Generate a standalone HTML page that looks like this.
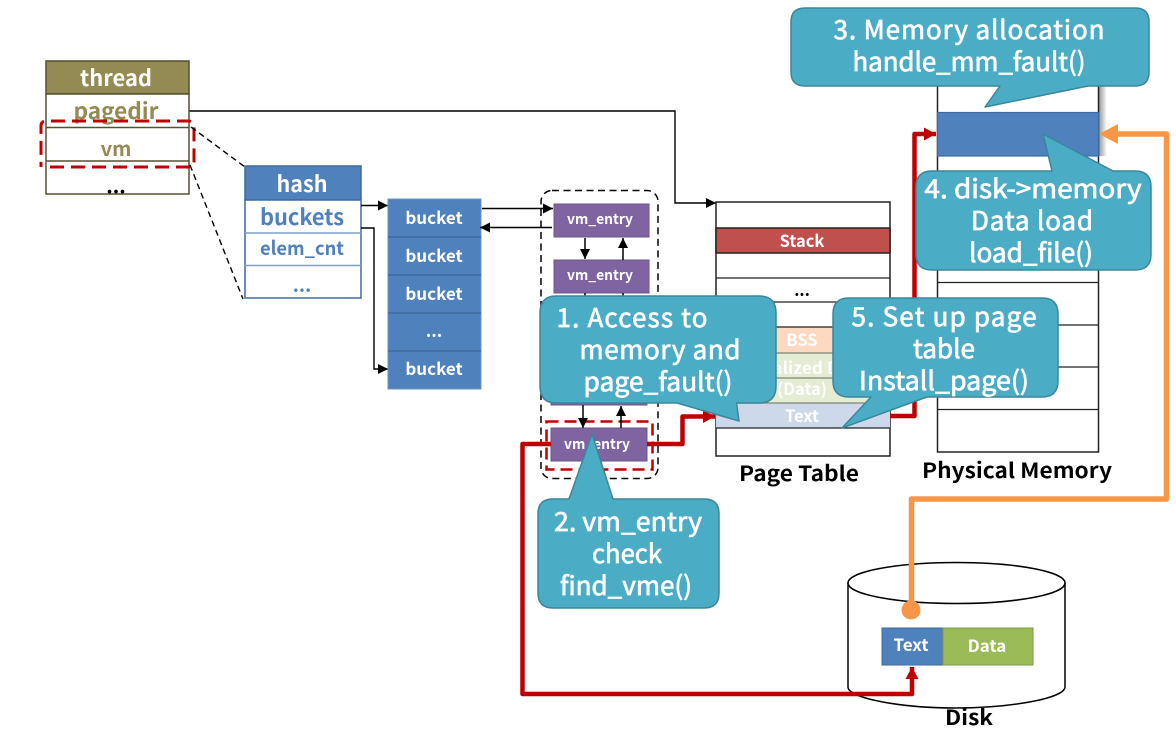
<!DOCTYPE html>
<html><head><meta charset="utf-8">
<style>
html,body{margin:0;padding:0;background:#fff;width:1176px;height:731px;overflow:hidden}
svg{display:block}
text{font-family:"Noto Sans CJK KR","Liberation Sans",sans-serif;font-weight:700;text-anchor:middle}
.w{fill:#fff}
.c{fill:#fff;font-size:26px;font-weight:400;stroke:#fff;stroke-width:.7px}
.k{fill:#000}
</style></head><body>
<svg width="1176" height="731" viewBox="0 0 1176 731" xmlns="http://www.w3.org/2000/svg">
<defs>
<linearGradient id="sh" x1="0" x2="1" y1="0" y2="0"><stop offset="0" stop-color="#999"/><stop offset="1" stop-color="#fff"/></linearGradient>
<marker id="ab" markerWidth="12" markerHeight="12" refX="10" refY="5" orient="auto" markerUnits="userSpaceOnUse"><path d="M0 0L10 5L0 10z" fill="#000"/></marker>
<marker id="ar" markerWidth="16" markerHeight="16" refX="12" refY="6.5" orient="auto" markerUnits="userSpaceOnUse"><path d="M0 0L12 6.5L0 13z" fill="#c00000"/></marker>
</defs>

<!-- pagedir connector -->
<path d="M189 111H675V203H716" fill="none" stroke="#000" stroke-width="1.4" marker-end="url(#ab)"/>

<!-- thread -->
<rect x="46" y="61" width="143" height="33" fill="#948a54" stroke="#575030" stroke-width="1.5"/>
<rect x="46" y="94" width="143" height="100" fill="#fff" stroke="#575030" stroke-width="1.5"/>
<path d="M46 127.500H189M46 161H189" stroke="#575030" stroke-width="1.500"/>
<text x="116" y="86" class="w" font-size="22" textLength="72" lengthAdjust="spacingAndGlyphs">thread</text>
<text x="116" y="119" fill="#948a54" font-size="22" textLength="85" lengthAdjust="spacingAndGlyphs">pagedir</text>
<text x="116" y="156" fill="#948a54" font-size="20">vm</text>
<text x="116" y="193" class="k" font-size="20">...</text>
<path d="M50 167H190Q194 167 194 163V127Q194 121 188 121H46Q41 121 41 126V167" fill="none" stroke="#c00000" stroke-width="3" stroke-dasharray="14 7"/>

<!-- zoom lines -->
<path d="M191 127L245 167M190 165L243 299" fill="none" stroke="#000" stroke-width="1.400" stroke-dasharray="6 4"/>

<!-- hash -->
<rect x="245" y="166" width="116" height="34" fill="#4f81bd" stroke="#3f6a9f" stroke-width="1.500"/>
<rect x="245" y="200" width="116" height="98" fill="#fff" stroke="#3f6a9f" stroke-width="1.500"/>
<path d="M245 233H361M245 265.500H361" stroke="#7f9fc8" stroke-width="1.500"/>
<text x="302" y="192" class="w" font-size="22" textLength="51" lengthAdjust="spacingAndGlyphs">hash</text>
<text x="302" y="225" fill="#4f81bd" font-size="22" textLength="84" lengthAdjust="spacingAndGlyphs">buckets</text>
<text x="302" y="255" fill="#4f81bd" font-size="19" textLength="84" lengthAdjust="spacingAndGlyphs">elem_cnt</text>
<text x="302" y="292" fill="#4f81bd" font-size="19">...</text>

<!-- hash arrows -->
<path d="M361 205.500H388" stroke="#000" stroke-width="1.400" marker-end="url(#ab)"/>
<path d="M361 228H374V369H388" fill="none" stroke="#000" stroke-width="1.400" marker-end="url(#ab)"/>

<!-- buckets -->
<rect x="388" y="199" width="93" height="190" fill="#4f81bd" stroke="#6d93c4" stroke-width="1"/>
<path d="M388 237H481M388 275H481M388 313H481M388 351H481" stroke="#3f6a9f" stroke-width="1.500"/>
<text x="434" y="224" class="w" font-size="17">bucket</text>
<text x="434" y="262" class="w" font-size="17">bucket</text>
<text x="434" y="300" class="w" font-size="17">bucket</text>
<text x="434" y="337" class="w" font-size="17">...</text>
<text x="434" y="375" class="w" font-size="17">bucket</text>

<!-- vm entry container -->
<rect x="541" y="190.500" width="117" height="288" rx="11" fill="none" stroke="#000" stroke-width="1.500" stroke-dasharray="7 4.500"/>
<rect x="546.500" y="421.500" width="106" height="48" fill="none" stroke="#c00000" stroke-width="2.500" stroke-dasharray="12 6"/>

<!-- vm entries -->
<g fill="#8064a2" stroke="#6b5488" stroke-width="1">
<rect x="554" y="204" width="95" height="33"/>
<rect x="554" y="260" width="95" height="33"/>
<rect x="552" y="316" width="95" height="33"/>
<rect x="551" y="372" width="96" height="33"/>
<rect x="551" y="428" width="96" height="33"/>
</g>
<text x="600" y="224" class="w" font-size="14.500" textLength="66" lengthAdjust="spacingAndGlyphs">vm_entry</text>
<text x="600" y="280" class="w" font-size="14.500" textLength="66" lengthAdjust="spacingAndGlyphs">vm_entry</text>
<text x="597" y="449" class="w" font-size="14.500" textLength="66" lengthAdjust="spacingAndGlyphs">vm_entry</text>

<!-- bucket <-> entry arrows -->
<path d="M482 208.500H553" stroke="#000" stroke-width="1.400" marker-end="url(#ab)"/>
<path d="M552 227.500H480" stroke="#000" stroke-width="1.400" marker-end="url(#ab)"/>
<path d="M585 238V259" stroke="#000" stroke-width="1.500" marker-end="url(#ab)"/>
<path d="M623 260V238" stroke="#000" stroke-width="1.500" marker-end="url(#ab)"/>
<path d="M585 293V320M623 293V320" stroke="#000" stroke-width="1.500"/>
<path d="M583 405V428" stroke="#000" stroke-width="1.500" marker-end="url(#ab)"/>
<path d="M621 428V406" stroke="#000" stroke-width="1.500" marker-end="url(#ab)"/>

<!-- page table -->
<rect x="716" y="202" width="174" height="254" fill="#fff" stroke="#222" stroke-width="1.500"/>
<rect x="716" y="228" width="174" height="25" fill="#c0504d" stroke="#222" stroke-width="1.500"/>
<rect x="716" y="327" width="174" height="26" fill="#fcd9c0"/>
<rect x="716" y="353" width="174" height="50" fill="#e4ecd3"/>
<rect x="716" y="403" width="174" height="25" fill="#cdd8ea"/>
<path d="M716 278H890M716 302H890M716 327H890M716 428H890" stroke="#222" stroke-width="1.300"/>
<path d="M716 353H890M716 378H890M716 403H890" stroke="#7f8570" stroke-width="1.300"/>
<text x="802" y="247" class="w" font-size="16.500" font-weight="400">Stack</text>
<text x="802" y="296" class="k" font-size="16">...</text>
<text x="802" y="346" class="w" font-size="16.500">BSS</text>
<text x="802" y="374" class="w" font-size="16.500" textLength="128" lengthAdjust="spacingAndGlyphs">Initialized Data</text>
<text x="802" y="395" class="w" font-size="16.500">(Data)</text>
<text x="802" y="422" class="w" font-size="16.500">Text</text>
<text x="799" y="481" class="k" font-size="21" textLength="120" lengthAdjust="spacingAndGlyphs">Page Table</text>

<!-- physical memory -->
<rect x="1099" y="84" width="8" height="72" fill="url(#sh)"/>
<rect x="937.500" y="70" width="161" height="382" fill="#fff" stroke="#222" stroke-width="1.500"/>
<path d="M937 198H1098M937 240H1098M937 282.500H1098M937 325H1098M937 367H1098M937 409.500H1098" stroke="#222" stroke-width="1.300"/>
<rect x="937.500" y="112.500" width="161" height="43.500" fill="#4f81bd" stroke="#3f6a9f" stroke-width="1.200"/>
<text x="1017" y="478" class="k" font-size="21" textLength="190" lengthAdjust="spacingAndGlyphs">Physical Memory</text>

<!-- disk -->
<path d="M848 583V687C848 698 900 708 956 708C1012 708 1065 698 1065 687V583" fill="#fff" stroke="#000" stroke-width="1.500"/>
<ellipse cx="956.500" cy="583" rx="108.500" ry="20.500" fill="#fff" stroke="#000" stroke-width="1.500"/>
<rect x="882" y="628" width="61" height="37" fill="#4f81bd" stroke="#3f6a9f"/>
<rect x="943" y="628" width="90" height="37" fill="#9bbb59" stroke="#7d9a46"/>
<text x="911" y="651" class="w" font-size="17">Text</text>
<text x="987" y="652" class="w" font-size="17">Data</text>
<text x="969" y="725" class="k" font-size="21" textLength="48" lengthAdjust="spacingAndGlyphs">Disk</text>

<!-- red connectors -->
<g fill="none" stroke="#c00000" stroke-width="4.500" stroke-linejoin="round">
<path d="M551 444H522.500V694H912V667" marker-end="url(#ar)"/>
<path d="M647 444H682.500V416.500H715" marker-end="url(#ar)"/>
<path d="M890 416H914.500V134H936" marker-end="url(#ar)"/>
</g>

<!-- orange connector -->
<circle cx="911" cy="610" r="9.500" fill="#f79646"/>
<path d="M911.500 610V499H1166.500V134H1110" fill="none" stroke="#f79646" stroke-width="5.500" stroke-linejoin="round"/>
<path d="M1099 134L1118 124V144z" fill="#f79646"/>

<!-- callouts -->
<g fill="#4bacc6" stroke="#3a879c" stroke-width="1.500" stroke-linejoin="round">
<path d="M805 8H1135Q1149 8 1149 22V72Q1149 86 1135 86H1088L985 107L1000 86H805Q791 86 791 72V22Q791 8 805 8z"/>
<path d="M932 171H1052L1043 134L1113 171H1135Q1151 171 1151 187V254Q1151 270 1135 270H932Q916 270 916 254V187Q916 171 932 171z"/>
<path d="M556 296H759Q776 296 776 313V386Q776 403 759 403H736.500L739 421L677 403H556Q540 403 540 386V313Q540 296 556 296z"/>
<path d="M849 298H1042Q1058 298 1058 314V381Q1058 397 1042 397H927L842 428L871 397H849Q833 397 833 381V314Q833 298 849 298z"/>
<path d="M553 499H569L592 434L613 499H704Q719 499 719 514V593Q719 608 704 608H553Q538 608 538 593V514Q538 499 553 499z"/>
</g>
<text x="969" y="39" class="c" textLength="271" lengthAdjust="spacing">3. Memory allocation</text>
<text x="969" y="71" class="c" textLength="233" lengthAdjust="spacingAndGlyphs">handle_mm_fault()</text>
<text x="1033" y="198" class="c" textLength="217" lengthAdjust="spacingAndGlyphs">4. disk-&gt;memory</text>
<text x="1032" y="230" class="c" textLength="122" lengthAdjust="spacing">Data load</text>
<text x="1031" y="262" class="c" textLength="124" lengthAdjust="spacingAndGlyphs">load_file()</text>
<text x="632" y="327" class="c" textLength="151" lengthAdjust="spacing">1. Access to</text>
<text x="660" y="359" class="c" textLength="161" lengthAdjust="spacing">memory and</text>
<text x="658" y="391" class="c" textLength="149" lengthAdjust="spacingAndGlyphs">page_fault()</text>
<text x="944" y="326" class="c" textLength="185" lengthAdjust="spacing">5. Set up page</text>
<text x="944" y="358" class="c" textLength="62" lengthAdjust="spacingAndGlyphs">table</text>
<text x="944" y="390" class="c" textLength="170" lengthAdjust="spacingAndGlyphs">Install_page()</text>
<text x="628" y="531" class="c" textLength="148" lengthAdjust="spacingAndGlyphs">2. vm_entry</text>
<text x="627" y="563" class="c" textLength="70" lengthAdjust="spacingAndGlyphs">check</text>
<text x="626" y="595" class="c" textLength="132" lengthAdjust="spacingAndGlyphs">find_vme()</text>
</svg>
</body></html>
